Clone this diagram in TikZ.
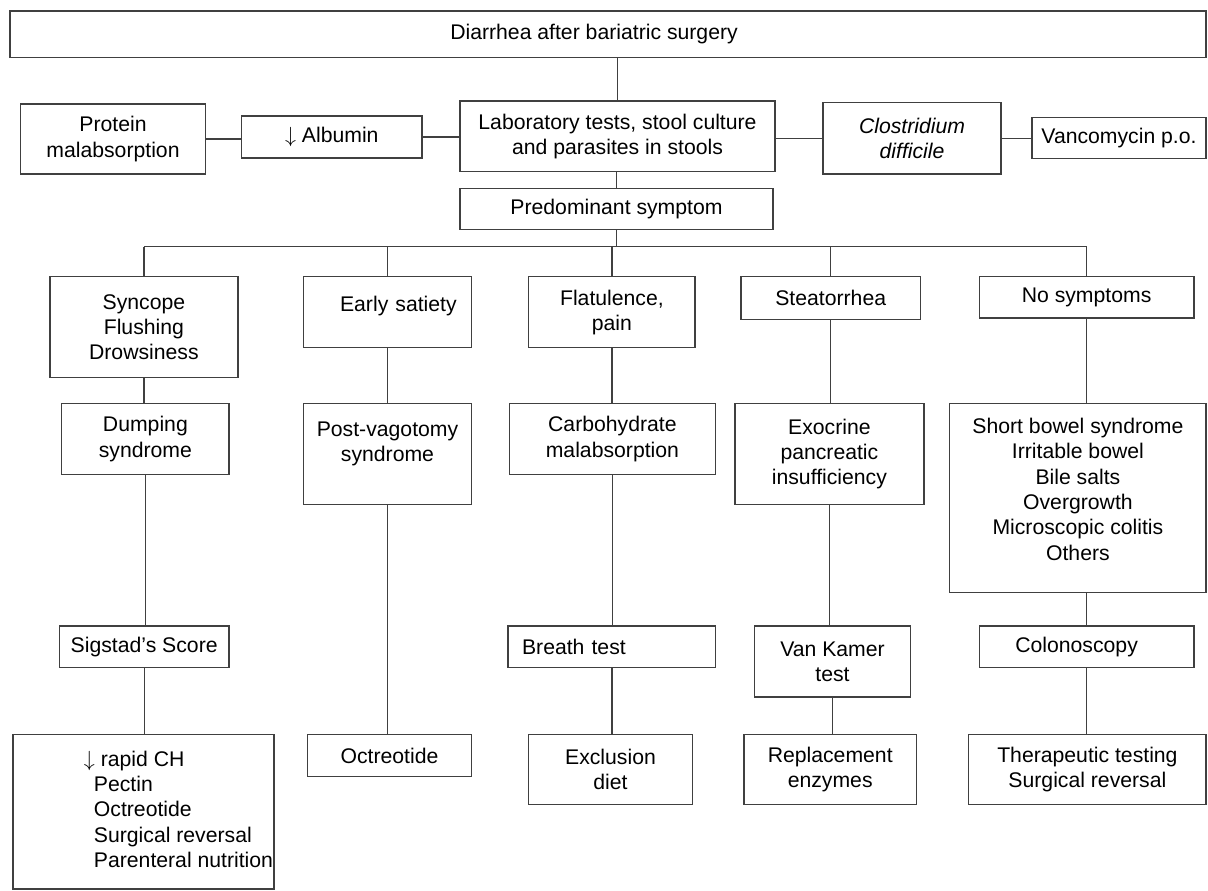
\documentclass[tikz,border=0pt]{standalone}
\usepackage{fontspec}
\setmainfont{Liberation Sans}
\tikzset{
  box/.style={draw=black!75, line width=0.7pt, inner sep=3pt, align=center,
    font=\fontsize{10.6}{12.65}\selectfont},
  link/.style={draw=black!75, line width=0.7pt}
}

\begin{document}
\begin{tikzpicture}[x=0.5pt,y=-0.5pt]
  \useasboundingbox (0,0) rectangle (1208,890);
  % top
  \node[box, minimum width=598pt, minimum height=23.35pt] (top) at (608,34.3) {\hspace*{-14pt}Diarrhea after bariatric surgery};
  \node[box, minimum width=92.5pt, minimum height=35pt] (prot) at (113,139) {Protein\\malabsorption};
  \node[box, minimum width=90.2pt, minimum height=20.85pt] (alb) at (331.8,137) {$\downarrow$ Albumin};
  \node[box, minimum width=157.5pt, minimum height=35.35pt] (lab) at (617.5,136.3) {Laboratory tests, stool culture\\and parasites in stools};
  \node[box, minimum width=89pt, minimum height=35.65pt] (clos) at (912,138.3) {\textit{Clostridium}\\\textit{difficile}};
  \node[box, minimum width=87pt, minimum height=20.7pt] (vanco) at (1119,138) {Vancomycin p.o.};
  \node[box, minimum width=156.5pt, minimum height=20.3pt] (pred) at (616.5,209) {Predominant symptom};
  \coordinate (br) at (0,246.7);
  % symptoms
  \node[box, minimum width=94.1pt, minimum height=50.3pt] (syn) at (143.9,327) {Syncope\\Flushing\\Drowsiness};
  \node[box, minimum width=83.8pt, minimum height=35.5pt, text width=69.2pt, inner xsep=7.3pt, align=right] (early) at (387.5,312.2) {Early satiety\\[-4pt]\mbox{}};
  \node[box, minimum width=83.15pt, minimum height=35.5pt] (flat) at (611.9,312.2) {Flatulence,\\pain};
  \node[box, minimum width=89.6pt, minimum height=21.3pt] (stea) at (830.7,298) {Steatorrhea};
  \node[box, minimum width=107.4pt, minimum height=20.65pt] (nosy) at (1086.6,297.4) {No symptoms};
  % diagnoses
  \node[box, minimum width=83.65pt, minimum height=35.7pt] (dump) at (145.4,439) {Dumping\\syndrome};
  \node[box, minimum width=83.8pt, minimum height=50.7pt] (postv) at (387.5,454) {Post-vagotomy\\syndrome\\\mbox{}};
  \node[box, minimum width=103.1pt, minimum height=35.7pt] (carb) at (612.4,439) {Carbohydrate\\malabsorption};
  \node[box, minimum width=94.45pt, minimum height=50.7pt] (exo) at (829.4,454) {Exocrine\\pancreatic\\insufficiency};
  \node[box, minimum width=128.15pt, minimum height=94.5pt] (short) at (1077.9,497.8) {Short bowel syndrome\\Irritable bowel\\Bile salts\\Overgrowth\\Microscopic colitis\\Others\\[-4pt]\mbox{}};
  % tests
  \node[box, minimum width=84.85pt, minimum height=20.85pt] (sig) at (144.2,646.9) {Sigstad's Score};
  \node[box, minimum width=103.75pt, minimum height=20.85pt, text width=89.75pt, inner xsep=7pt, align=left] (breath) at (611.8,646.9) {Breath test};
  \node[box, minimum width=78.15pt, minimum height=35.5pt] (vank) at (832.5,661.5) {Van Kamer\\test};
  \node[box, minimum width=107.4pt, minimum height=20.85pt] (colon) at (1086.6,646.9) {\hspace*{-10pt}Colonoscopy};
  % treatment
  \node[box, inner xsep=0pt, minimum width=130.5pt, minimum height=77.35pt] (bot) at (143.5,811.7)
    {\hspace*{40pt}\begin{tabular}{@{}l@{}}\hspace*{-5pt}$\downarrow$ rapid CH\\Pectin\\Octreotide\\Surgical reversal\\Parenteral nutrition\end{tabular}};
  \node[box, minimum width=81.85pt, minimum height=21pt] (oct) at (389.5,755.7) {Octreotide};
  \node[box, minimum width=81.8pt, minimum height=35.2pt] (excl) at (610.5,769.5) {Exclusion\\diet};
  \node[box, minimum width=86.25pt, minimum height=35.2pt] (repl) at (830.2,769.5) {Replacement\\enzymes};
  \node[box, minimum width=118.65pt, minimum height=35.2pt] (ther) at (1087.4,769.5) {Therapeutic testing\\Surgical reversal};
  % top links
  \draw[link] (lab) -- (lab |- top.south);
  \draw[link] (pred) -- (pred |- lab.south);
  \draw[link] (prot) -- (prot -| alb.west);
  \draw[link] (alb) -- (alb -| lab.west);
  \draw[link] (clos) -- (clos -| lab.east);
  \draw[link] (clos) -- (clos -| vanco.west);
  % branches
  \draw[link] (pred) -- (pred |- br);
  \draw[link] (syn |- br) -- (nosy |- br);
  \draw[link] (syn) -- (syn |- br);
  \draw[link] (early) -- (early |- br);
  \draw[link] (flat) -- (flat |- br);
  \draw[link] (stea) -- (stea |- br);
  \draw[link] (nosy) -- (nosy |- br);
  % columns
  \draw[link] (syn) -- (syn |- dump.north);
  \draw[link] (dump) -- (dump |- sig.north);
  \draw[link] (sig) -- (sig |- bot.north);
  \draw[link] (early) -- (early |- postv.north);
  \draw[link] (postv) -- (postv |- oct.north);
  \draw[link] (flat) -- (flat |- carb.north);
  \draw[link] (carb) -- (carb |- breath.north);
  \draw[link] (breath) -- (breath |- excl.north);
  \draw[link] (stea) -- (stea |- exo.north);
  \draw[link] (exo) -- (exo |- vank.north);
  \draw[link] (vank) -- (vank |- repl.north);
  \draw[link] (nosy) -- (nosy |- short.north);
  \draw[link] (colon) -- (colon |- short.south);
  \draw[link] (colon) -- (colon |- ther.north);
\end{tikzpicture}
\end{document}
